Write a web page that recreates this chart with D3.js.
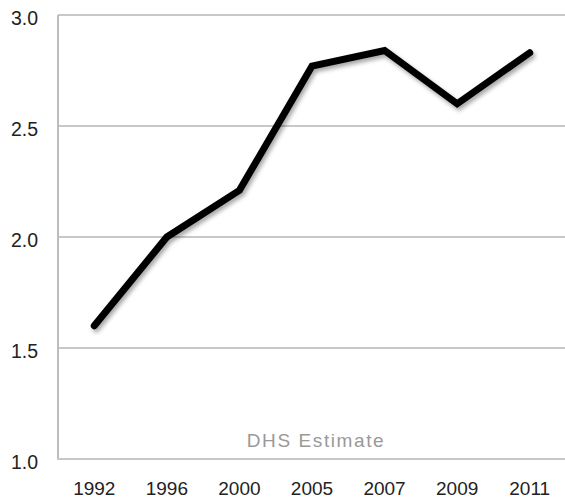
<!DOCTYPE html>
<html><head><meta charset="utf-8">
<script src="https://cdn.jsdelivr.net/npm/d3@7"></script>
<style>body{margin:0;background:#fff}svg{display:block}</style>
</head><body>
<script>
const years = ["1992","1996","2000","2005","2007","2009","2011"];
const values = [1.60, 2.00, 2.21, 2.77, 2.84, 2.60, 2.83];
const yTicks = [1.0, 1.5, 2.0, 2.5, 3.0];
const note = "DHS Estimate";

const W = 565, H = 499;
const m = {left: 58, right: 0, top: 15, bottom: 40};
const svg = d3.select("body").append("svg").attr("width", W).attr("height", H);
const x = d3.scalePoint().domain(years).range([m.left, W + 1]).padding(0.5);
const y = d3.scaleLinear().domain([1, 3]).range([H - m.bottom, m.top]);
const font = "Liberation Sans, Arial, Helvetica, sans-serif";

const defs = svg.append("defs");
const f = defs.append("filter").attr("id","sh").attr("x","-10%").attr("y","-10%").attr("width","130%").attr("height","130%");
f.append("feDropShadow").attr("dx",2).attr("dy",3).attr("stdDeviation",2).attr("flood-color","#000").attr("flood-opacity",0.35);

// gridlines
svg.append("g").selectAll("line").data(yTicks.filter(d => d > 1)).join("line")
  .attr("x1", m.left).attr("x2", W).attr("y1", d => y(d)).attr("y2", d => y(d))
  .attr("stroke", "#c8c8c8").attr("stroke-width", 2);

// axes lines
svg.append("line").attr("x1", m.left).attr("x2", m.left).attr("y1", y(3)).attr("y2", y(1))
  .attr("stroke", "#bdbdbd").attr("stroke-width", 2);
svg.append("line").attr("x1", m.left - 1).attr("x2", W).attr("y1", y(1)).attr("y2", y(1))
  .attr("stroke", "#c8c8c8").attr("stroke-width", 2);

// y labels
svg.append("g").selectAll("text").data(yTicks).join("text")
  .attr("x", 38).attr("y", d => y(d) + 10)
  .attr("text-anchor", "end").attr("font-family", font)
  .attr("font-size", 19.5).attr("fill", "#222").text(d => d.toFixed(1));

// x labels
svg.append("g").selectAll("text").data(years).join("text")
  .attr("x", d => x(d)).attr("y", 495)
  .attr("text-anchor", "middle").attr("font-family", font)
  .attr("font-size", 19).attr("fill", "#222").text(d => d);

// note
svg.append("text").attr("x", 316).attr("y", 447).attr("text-anchor", "middle")
  .attr("font-family", font).attr("font-size", 19)
  .attr("fill", "#999").attr("letter-spacing", 1.6).text(note);

// line
const line = d3.line().x((d,i) => x(years[i])).y(d => y(d));
svg.append("path").datum(values).attr("d", line).attr("fill", "none")
  .attr("stroke", "#000").attr("stroke-width", 7).attr("stroke-linejoin", "miter")
  .attr("stroke-linecap", "round").attr("filter", "url(#sh)");
</script>
</body></html>
